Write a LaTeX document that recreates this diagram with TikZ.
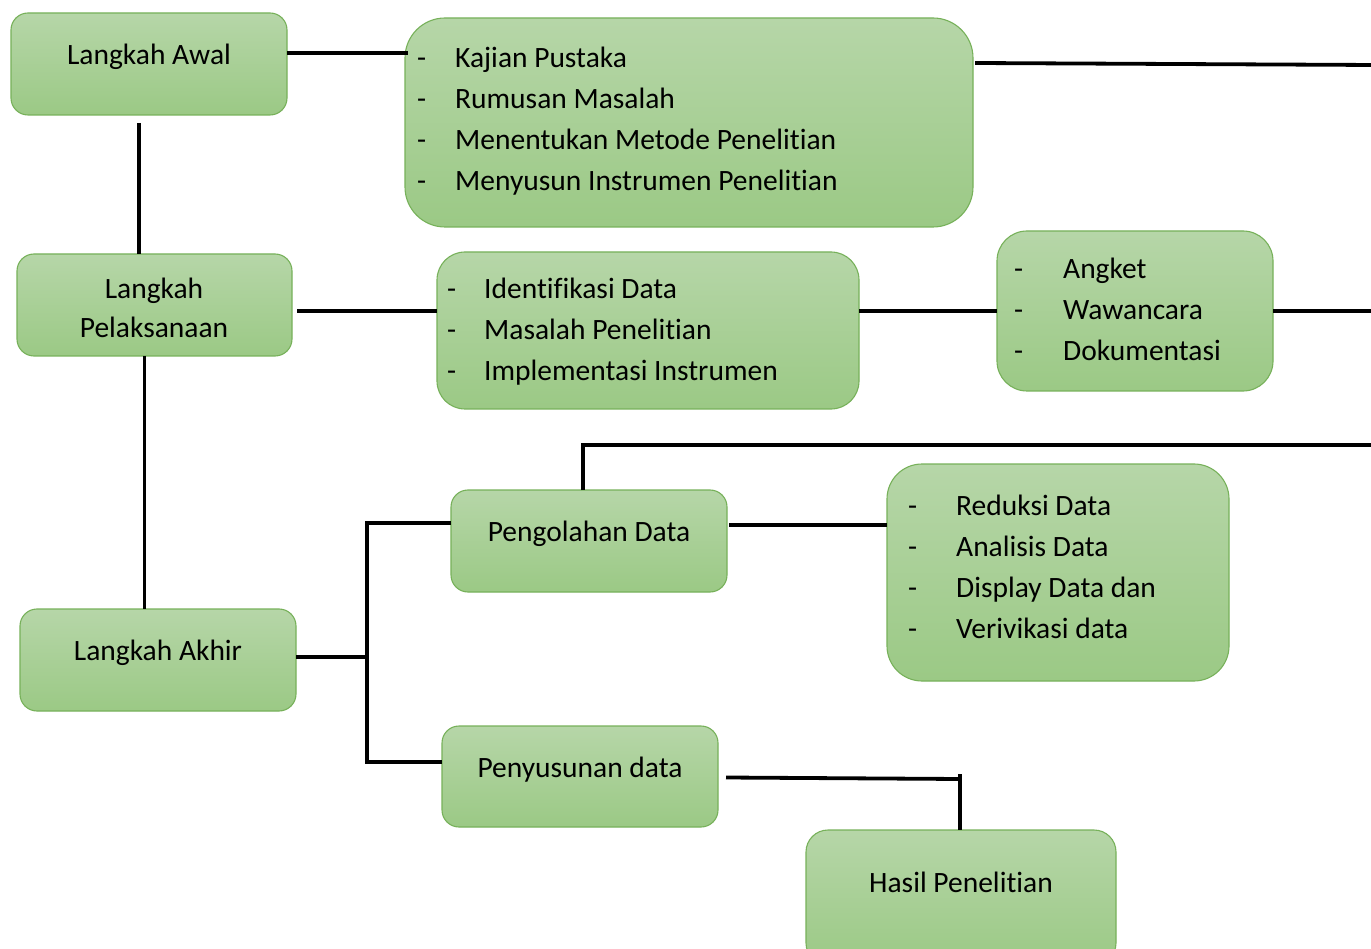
\documentclass[tikz,border=0pt]{standalone}
\usepackage{fontspec}
\setmainfont{Carlito}[Ligatures={NoCommon}]
\usetikzlibrary{calc}
\definecolor{gtop}{HTML}{B6D6A8}
\definecolor{gbot}{HTML}{9BC985}
\definecolor{gborder}{HTML}{77B15A}
\tikzset{
  box/.style={draw=gborder, line width=1.1pt, top color=gtop, bottom color=gbot,
    anchor=north west, inner sep=0pt, outer sep=0pt},
  conn/.style={line width=3.8pt, black},
  lbl/.style={anchor=base, inner sep=0pt, font=\fontsize{29.5}{39}\selectfont, align=center},
  lst/.style={anchor=base west, inner sep=0pt, font=\fontsize{29.5}{41}\selectfont}
}
\begin{document}
\begin{tikzpicture}[x=1pt,y=-1pt]
\fill[white] (0,0) rectangle (1371,949);
\useasboundingbox (0,0) rectangle (1371,949);

% boxes
\node[box, minimum width=276pt, minimum height=102pt, rounded corners=17pt] (aw) at (11,13) {};
\node[box, minimum width=568pt, minimum height=209pt, rounded corners=40pt] (kp) at (405,18) {};
\node[box, minimum width=275pt, minimum height=102pt, rounded corners=17pt] (lp) at (17,254) {};
\node[box, minimum width=422pt, minimum height=157pt, rounded corners=28pt] (id) at (437,252) {};
\node[box, minimum width=276pt, minimum height=160pt, rounded corners=30pt] (ak) at (997,231) {};
\node[box, minimum width=276pt, minimum height=102pt, rounded corners=17pt] (la) at (20,609) {};
\node[box, minimum width=276pt, minimum height=102pt, rounded corners=17pt] (pd) at (451,490) {};
\node[box, minimum width=342pt, minimum height=217pt, rounded corners=35pt] (rd) at (887,464) {};
\node[box, minimum width=276pt, minimum height=101pt, rounded corners=17pt] (ps) at (442,726) {};
\node[box, minimum width=310pt, minimum height=135pt, rounded corners=22pt] (hp) at (806,830) {};

% texts
\node[lbl] (taw) at (149,65) {Langkah Awal};
\node[lbl] (tlp) at (154,338) {Langkah\\Pelaksanaan};
\node[lbl] (tla) at (158,660) {Langkah Akhir};
\node[lbl] (tpd) at (589,541) {Pengolahan Data};
\node[lbl] (tps) at (580,777) {Penyusunan data};
\node[lbl] (thp) at (961,892) {Hasil Penelitian};

\node[lst] (tkp) at (417,68) {\begin{tabular}[t]{@{}p{38pt}@{}l@{}}
-&Kajian Pustaka\\ -&Rumusan Masalah\\ -&Menentukan Metode Penelitian\\ -&Menyusun Instrumen Penelitian\end{tabular}};
\node[lst] (tid) at (447,299) {\begin{tabular}[t]{@{}p{37pt}@{}l@{}}
-&Identifikasi Data\\ -&Masalah Penelitian\\ -&Implementasi Instrumen\end{tabular}};
\node[lst] (tak) at (1014,279) {\begin{tabular}[t]{@{}p{49pt}@{}l@{}}
-&Angket\\ -&Wawancara\\ -&Dokumentasi\end{tabular}};
\node[lst] (trd) at (908,515) {\begin{tabular}[t]{@{}p{48pt}@{}l@{}}
-&Reduksi Data\\ -&Analisis Data\\ -&Display Data dan\\ -&Verivikasi data\end{tabular}};

% free ends at the right edge
\coordinate (r1) at (1375,65);
\coordinate (r2) at (1375,311);
\coordinate (r3) at (1375,445);
\coordinate (y53) at (0,53);
\coordinate (y311) at (0,311);
\coordinate (y523) at (0,523);
\coordinate (y525) at (0,525);
\coordinate (y657) at (0,657);
\coordinate (y762) at (0,762);
\coordinate (y779) at (0,779);
\coordinate (jx) at (367,0);

% connectors
\draw[conn] (aw.east |- y53) -- ([xshift=3pt]kp.west |- y53);
\draw[conn] ([xshift=2pt,yshift=-45pt]kp.north east) -- (r1);
\draw[conn] ([xshift=-10pt,yshift=-8pt]aw.south) coordinate (v1) -- (v1 |- lp.north);
\draw[conn] ([xshift=5pt]lp.east |- y311) -- (id.west |- y311);
\draw[conn] (id.east |- y311) -- (ak.west |- y311);
\draw[conn] (ak.east |- y311) -- (r2);
\draw[conn] ([xshift=-10pt]lp.south) coordinate (v2) -- (v2 |- la.north);
\draw[conn] (la.east |- y657) -- (jx |- y657);
\draw[conn] (pd.west |- y523) -- (jx |- y523) -- (jx |- y762) -- (ps.west |- y762);
\draw[conn] ([xshift=-6pt]pd.north) |- (r3);
\draw[conn] ([xshift=2pt]pd.east |- y525) -- (rd.west |- y525);
\draw[conn] ([xshift=8pt,yshift=-1pt]ps.east) -- ([xshift=-1pt]hp.north |- y779);
\draw[conn] ([xshift=-1pt,yshift=56pt]hp.north) -- ([xshift=-1pt]hp.north);
\end{tikzpicture}
\end{document}
